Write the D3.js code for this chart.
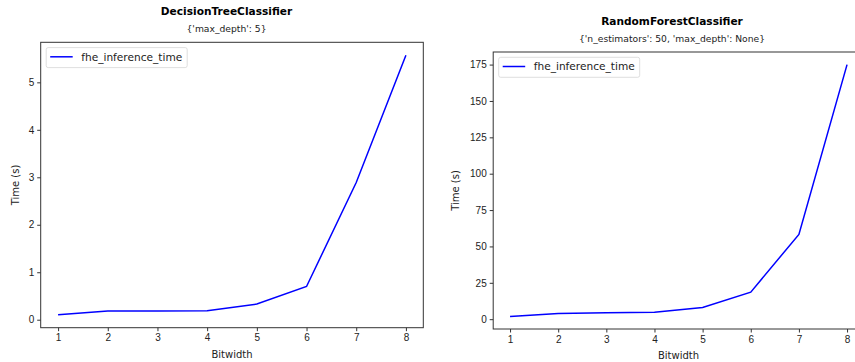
<!DOCTYPE html>
<html>
<head>
<meta charset="utf-8">
<script src="https://cdn.jsdelivr.net/npm/d3@7"></script>
<style>
    body { margin: 0; background: #fff; }
    svg { display: block; font-family: "DejaVu Sans", sans-serif; }
    .axis path, .axis line { stroke: #333; }
    .axis text { fill: #222; font-size: 10px; }
</style>
</head>
<body>
<div id="chart"></div>
<script>
// Values
const bitwidths = [1, 2, 3, 4, 5, 6, 7, 8];
const dtTimes = [0.105, 0.185, 0.185, 0.19, 0.33, 0.70, 2.89, 5.57];
const rfTimes = [1.9, 3.9, 4.4, 4.8, 8.1, 18.6, 58.3, 175.0];
const dtTicks = [0, 1, 2, 3, 4, 5];
const rfTicks = [0, 25, 50, 75, 100, 125, 150, 175];

const panels = [
    {
        title: 'DecisionTreeClassifier',
        subtitle: "{'max_depth': 5}",
        values: dtTimes,
        yTicks: dtTicks,
        box: { left: 40.7, right: 423.3, top: 42.3, bottom: 327.7 },
        titleX: 226.5,
        labelX: 15
    },
    {
        title: 'RandomForestClassifier',
        subtitle: "{'n_estimators': 50, 'max_depth': None}",
        values: rfTimes,
        yTicks: rfTicks,
        box: { left: 493.2, right: 863.9, top: 52, bottom: 329 },
        titleX: 672,
        labelX: 455
    }
];

const svg = d3.select('#chart')
    .append('svg')
    .attr('width', 855)
    .attr('height', 362);

// matplotlib-like 5% margins
function padded(ext) {
    const pad = (ext[1] - ext[0]) * 0.05;
    return [ext[0] - pad, ext[1] + pad];
}

panels.forEach(p => {
    const b = p.box;
    const data = bitwidths.map((bw, i) => ({ bw: bw, t: p.values[i] }));

    const x = d3.scaleLinear()
        .domain(padded(d3.extent(bitwidths)))
        .range([b.left, b.right]);

    const y = d3.scaleLinear()
        .domain(padded(d3.extent(p.values)))
        .range([b.bottom, b.top]);

    const midX = (b.left + b.right) / 2;

    // Titles
    svg.append('text')
        .attr('x', p.titleX)
        .attr('y', p.box.top - 27)
        .attr('text-anchor', 'middle')
        .style('font-size', '10.6px')
        .style('font-weight', 'bold')
        .text(p.title);

    svg.append('text')
        .attr('x', p.titleX)
        .attr('y', p.box.top - 10)
        .attr('text-anchor', 'middle')
        .style('font-size', '9.2px')
        .style('fill', '#222')
        .text(p.subtitle);

    // Axes
    svg.append('g')
        .attr('class', 'axis')
        .attr('transform', `translate(0,${b.bottom})`)
        .call(d3.axisBottom(x).tickValues(bitwidths).tickFormat(d3.format('d'))
            .tickSizeOuter(0).tickSize(3.5).tickPadding(3))
        .call(g => g.select('.domain').remove());

    svg.append('g')
        .attr('class', 'axis')
        .attr('transform', `translate(${b.left},0)`)
        .call(d3.axisLeft(y).tickValues(p.yTicks).tickFormat(d3.format('d'))
            .tickSizeOuter(0).tickSize(3.5).tickPadding(3))
        .call(g => g.select('.domain').remove());

    // Frame
    svg.append('rect')
        .attr('x', b.left)
        .attr('y', b.top)
        .attr('width', b.right - b.left)
        .attr('height', b.bottom - b.top)
        .style('fill', 'none')
        .style('stroke', '#333')
        .style('stroke-width', 1);

    // Line
    const line = d3.line()
        .x(d => x(d.bw))
        .y(d => y(d.t));

    svg.append('path')
        .datum(data)
        .attr('d', line)
        .style('fill', 'none')
        .style('stroke', '#0000ff')
        .style('stroke-width', 1.5);

    // Axis labels
    svg.append('text')
        .attr('x', midX)
        .attr('y', b.bottom + 30)
        .attr('text-anchor', 'middle')
        .style('font-size', '10px')
        .style('fill', '#222')
        .text('Bitwidth');

    const labelY = (b.top + b.bottom) / 2;
    svg.append('text')
        .attr('transform', `translate(${p.labelX},${labelY}) rotate(-90)`)
        .attr('text-anchor', 'middle')
        .attr('dy', '0.35em')
        .style('font-size', '10px')
        .style('fill', '#222')
        .text('Time (s)');

    // Legend
    const lg = svg.append('g')
        .attr('transform', `translate(${b.left + 5.5},${b.top + 5.3})`);

    lg.append('rect')
        .attr('width', 141)
        .attr('height', 20)
        .attr('rx', 2)
        .style('fill', '#fff')
        .style('stroke', '#d6d6d6')
        .style('stroke-width', 0.8);

    lg.append('line')
        .attr('x1', 4)
        .attr('x2', 26.5)
        .attr('y1', 9.2)
        .attr('y2', 9.2)
        .style('stroke', '#0000ff')
        .style('stroke-width', 1.5);

    lg.append('text')
        .attr('x', 35)
        .attr('y', 9.2)
        .attr('dy', '0.35em')
        .style('font-size', '10.6px')
        .style('fill', '#222')
        .text('fhe_inference_time');
});
</script>
</body>
</html>
